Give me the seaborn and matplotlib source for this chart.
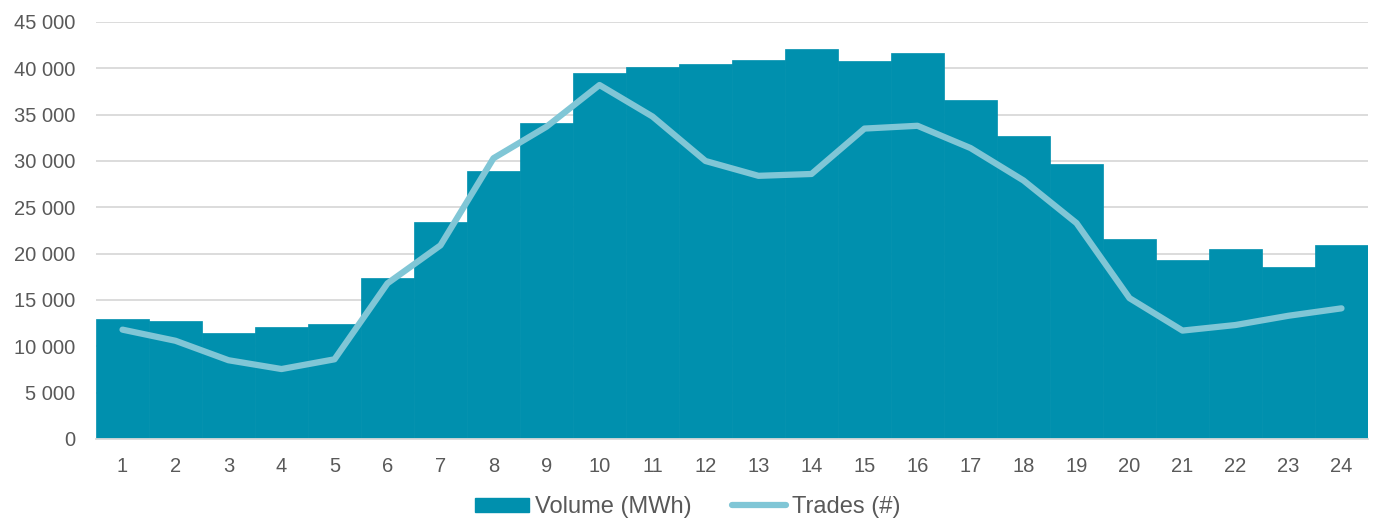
import matplotlib
matplotlib.use("Agg")
import matplotlib.pyplot as plt
import seaborn as sns
import pandas as pd
from matplotlib.ticker import FuncFormatter
from matplotlib.patches import Patch
from matplotlib.lines import Line2D

hours = [str(h) for h in range(1, 25)]
volume_mwh = [13000, 12700, 11400, 12100, 12400, 17400, 23400, 28900, 34100, 39500,
              40100, 40500, 40900, 42100, 40800, 41700, 36600, 32700, 29700, 21600,
              19300, 20500, 18600, 20900]
trades = [11800, 10600, 8500, 7550, 8600, 16800, 20900, 30300, 33700, 38200,
          34800, 30000, 28400, 28600, 33500, 33800, 31400, 27900, 23300, 15200,
          11700, 12300, 13300, 14100]
y_ticks = [0, 5000, 10000, 15000, 20000, 25000, 30000, 35000, 40000, 45000]

BAR = "#0090AE"
LINE = "#80C6D6"
TXT = "#595959"

sns.set_theme(style="white")
plt.rcParams['font.family'] = ['Liberation Sans', 'DejaVu Sans']

df = pd.DataFrame({"hour": hours, "volume": volume_mwh, "trades": trades})
df["pos"] = range(len(hours))

fig = plt.figure(figsize=(13.76, 5.21), dpi=100)
ax = fig.add_axes([96/1376, 1-439/521, (1368-96)/1376, (439-22)/521])

sns.barplot(data=df, x="hour", y="volume", color=BAR, width=1.0, saturation=1,
            edgecolor=BAR, linewidth=0.5, ax=ax, zorder=2)
sns.lineplot(data=df, x="pos", y="trades", color=LINE, linewidth=4.5, ax=ax,
             zorder=3, solid_capstyle="round", solid_joinstyle="round")

ax.set_xlim(-0.5, 23.5)
ax.set_ylim(0, 45000)
ax.set_yticks(y_ticks)
ax.yaxis.set_major_formatter(FuncFormatter(lambda v, p: f"{int(v):,}".replace(",", " ")))
ax.grid(axis="y", color="#D9D9D9", linewidth=1.3, zorder=0)
ax.set_axisbelow(True)
for s in ["top", "right", "left"]:
    ax.spines[s].set_visible(False)
ax.spines["bottom"].set_color("#D9D9D9")
ax.spines["bottom"].set_linewidth(1.3)
ax.set_xlabel("")
ax.set_ylabel("")
ax.tick_params(axis="both", length=0, labelsize=14.5, labelcolor=TXT)
ax.tick_params(axis="x", pad=13)
ax.tick_params(axis="y", pad=15)

handles = [Patch(facecolor=BAR, edgecolor=BAR, label="Volume (MWh)"),
           Line2D([0], [0], color=LINE, linewidth=4.5, solid_capstyle="round", label="Trades (#)")]
fig.legend(handles=handles, loc="center", bbox_to_anchor=(0.5, 1-507/521), ncol=2,
           frameon=False, fontsize=17, labelcolor=TXT, handlelength=2.3,
           handleheight=0.55, columnspacing=1.7, handletextpad=0.25)

fig.savefig("out.png", dpi=100)
